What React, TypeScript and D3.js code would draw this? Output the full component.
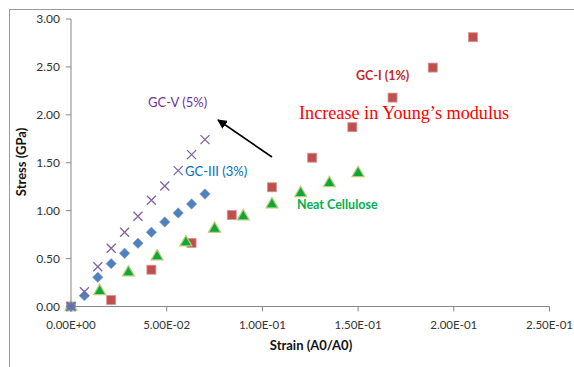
import React from "react";
import * as d3 from "d3";

// Strain (A0/A0) and stress (GPa) readings for each film
const strainNeat = [0, 0.015, 0.03, 0.045, 0.06, 0.075, 0.09, 0.105, 0.12, 0.135, 0.15];
const stressNeat = [0, 0.165, 0.36, 0.527, 0.673, 0.816, 0.945, 1.07, 1.188, 1.292, 1.397];

const strainGC1 = [0, 0.021, 0.042, 0.063, 0.084, 0.105, 0.126, 0.147, 0.168, 0.189, 0.21];
const stressGC1 = [0, 0.068, 0.384, 0.663, 0.955, 1.244, 1.553, 1.871, 2.18, 2.493, 2.81];

const strainGC3 = [0, 0.007, 0.014, 0.021, 0.028, 0.035, 0.042, 0.049, 0.056, 0.063, 0.07];
const stressGC3 = [0, 0.113, 0.305, 0.447, 0.555, 0.66, 0.775, 0.882, 0.976, 1.07, 1.174];

const strainGC5 = [0, 0.007, 0.014, 0.021, 0.028, 0.035, 0.042, 0.049, 0.056, 0.063, 0.07];
const stressGC5 = [0, 0.154, 0.415, 0.607, 0.775, 0.942, 1.109, 1.258, 1.418, 1.585, 1.741];

const xTicks = [0, 0.05, 0.1, 0.15, 0.2, 0.25];
const xTickLabels = ["0.00E+00", "5.00E-02", "1.00E-01", "1.50E-01", "2.00E-01", "2.50E-01"];
const yTicks = [0, 0.5, 1, 1.5, 2, 2.5, 3];

const W = 574;
const H = 367;
const FONT = "Lato, 'Open Sans', sans-serif";
const AXIS = "#868686";

const x = d3.scaleLinear().domain([0, 0.25]).range([71, 549.5]);
const y = d3.scaleLinear().domain([0, 3]).range([306.5, 19]);

const zip = (xs: number[], ys: number[]) => xs.map((v, i) => [v, ys[i]] as [number, number]);

export default function App() {
  const squares = zip(strainGC1, stressGC1);
  const triangles = zip(strainNeat, stressNeat);
  const diamonds = zip(strainGC3, stressGC3);
  const crosses = zip(strainGC5, stressGC5);
  const tri = d3.symbol().type(d3.symbolTriangle).size(62)();

  return (
    <svg
      width={W}
      height={H}
      style={{ position: "absolute", left: 0, top: 0, background: "#fff" }}
    >
      <defs>
        <marker id="head" viewBox="0 0 10 10" refX="9" refY="5" markerWidth="6" markerHeight="6" orient="auto">
          <path d="M0,0 L10,5 L0,10 z" fill="#000" />
        </marker>
      </defs>
      <rect x={9.5} y={9.5} width={700} height={500} fill="none" stroke="#9a9a9a" strokeWidth={1} />

      {/* axes */}
      <line x1={x(0)} x2={x(0.25)} y1={y(0)} y2={y(0)} stroke={AXIS} />
      <line x1={x(0)} x2={x(0)} y1={y(0)} y2={y(3)} stroke={AXIS} />
      {xTicks.map((t, i) => (
        <g key={"xt" + i}>
          <line x1={x(t)} x2={x(t)} y1={y(0)} y2={y(0) + 5} stroke={AXIS} />
          <text x={x(t)} y={y(0) + 22} textAnchor="middle" fontFamily={FONT} fontSize={11.5} fill="#333">
            {xTickLabels[i]}
          </text>
        </g>
      ))}
      {yTicks.map((t, i) => (
        <g key={"yt" + i}>
          <line x1={x(0) - 5} x2={x(0)} y1={y(t)} y2={y(t)} stroke={AXIS} />
          <text x={60} y={y(t) + 4} textAnchor="end" fontFamily={FONT} fontSize={12} fill="#333">
            {d3.format(".2f")(t)}
          </text>
        </g>
      ))}
      <text x={311} y={350} textAnchor="middle" fontFamily={FONT} fontWeight="bold" fontSize={13} fill="#111">
        Strain (A0/A0)
      </text>
      <text
        transform="translate(26,162) rotate(-90)"
        textAnchor="middle"
        fontFamily={FONT}
        fontWeight="bold"
        fontSize={13}
        fill="#111"
      >
        Stress (GPa)
      </text>

      {/* GC-I (1%) */}
      {squares.map(([a, b], i) => (
        <rect key={"s" + i} x={x(a) - 4.5} y={y(b) - 4.5} width={9} height={9} fill="#C0504D" stroke="#d99391" strokeWidth={0.8} />
      ))}
      {/* Neat cellulose */}
      {triangles.map(([a, b], i) => (
        <path key={"t" + i} d={tri!} transform={`translate(${x(a)},${y(b) + 0.5})`} fill="#12a53c" stroke="#b5cf72" strokeWidth={1.2} />
      ))}
      {/* GC-III (3%) */}
      {diamonds.map(([a, b], i) => (
        <path
          key={"d" + i}
          d="M0,-5.2 L5.2,0 L0,5.2 L-5.2,0 Z"
          transform={`translate(${x(a)},${y(b)})`}
          fill="#4F81BD"
          stroke="#7ea3cf"
          strokeWidth={0.6}
        />
      ))}
      {/* GC-V (5%) */}
      {crosses.map(([a, b], i) => (
        <path
          key={"c" + i}
          d="M-4.5,-4.5 L4.5,4.5 M-4.5,4.5 L4.5,-4.5"
          transform={`translate(${x(a)},${y(b)})`}
          stroke="#8064A2"
          strokeWidth={1.3}
          fill="none"
        />
      ))}

      {/* annotations */}
      <text x={148} y={107} fontFamily={FONT} fontSize={13} fill="#7030A0">GC-V (5%)</text>
      <text x={185} y={176} fontFamily={FONT} fontSize={13} fill="#0070C0">GC-III (3%)</text>
      <text x={356} y={80} fontFamily={FONT} fontWeight="bold" fontSize={12.5} fill="#C0282B">GC-I (1%)</text>
      <text x={297} y={209} fontFamily={FONT} fontWeight="bold" fontSize={12.5} fill="#00B050">Neat Cellulose</text>
      <text x={299} y={119} fontFamily="'Liberation Serif', 'Times New Roman', serif" fontSize={18.2} fill="#FF0000">
        Increase in Young’s modulus
      </text>
      <line x1={272} y1={157} x2={218} y2={120} stroke="#000" strokeWidth={1.6} markerEnd="url(#head)" />
    </svg>
  );
}
